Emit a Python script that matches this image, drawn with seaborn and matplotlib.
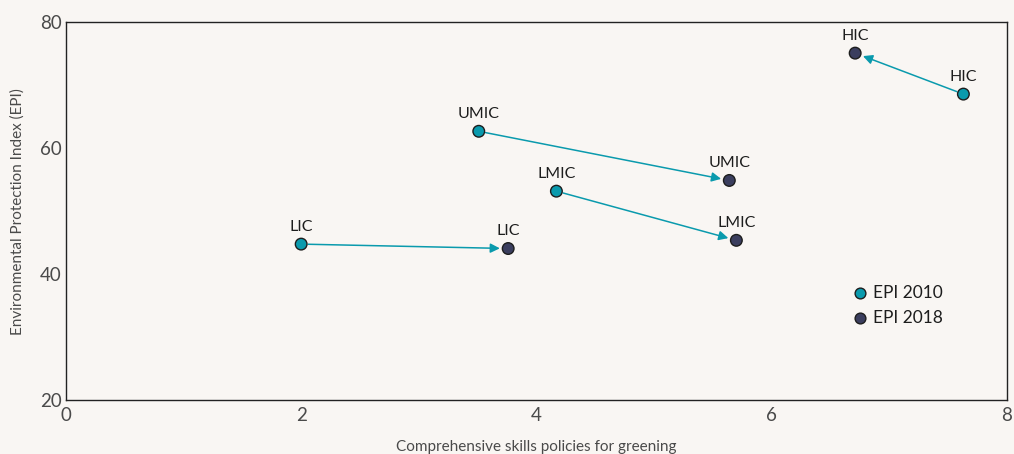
import numpy as np
import pandas as pd
import matplotlib.pyplot as plt
import seaborn as sns

groups = ['LIC', 'LMIC', 'UMIC', 'HIC']
skills_2010 = [2.0, 4.17, 3.51, 7.63]
epi_2010 = [44.8, 53.2, 62.7, 68.6]
skills_2018 = [3.76, 5.70, 5.64, 6.71]
epi_2018 = [44.1, 45.4, 54.9, 75.1]

BG = '#f9f6f3'
TEAL = '#0a9aad'
NAVY = '#3b3e5e'

sns.set_theme(style='white')
plt.rcParams['font.family'] = ['Lato', 'DejaVu Sans']

df = pd.concat([
    pd.DataFrame({'group': groups, 'x': skills_2010, 'y': epi_2010, 'year': 'EPI 2010'}),
    pd.DataFrame({'group': groups, 'x': skills_2018, 'y': epi_2018, 'year': 'EPI 2018'}),
])

fig = plt.figure(figsize=(10.14, 4.54), dpi=100, facecolor=BG)
ax = fig.add_axes([0.065, 0.118, 0.928, 0.833])
ax.set_facecolor(BG)

# arrows from 2010 to 2018
for i in range(len(groups)):
    ax.annotate('', xy=(skills_2018[i], epi_2018[i]), xytext=(skills_2010[i], epi_2010[i]),
                arrowprops=dict(arrowstyle='-|>', color=TEAL, lw=1.1, mutation_scale=14,
                                shrinkA=5, shrinkB=6), zorder=2)

sns.scatterplot(data=df, x='x', y='y', hue='year', palette=[TEAL, NAVY], s=70,
                edgecolor='#1d1d1d', linewidth=1, ax=ax, zorder=3, legend=False)

for _, r in df.iterrows():
    ax.text(r['x'], r['y'] + 1.6, r['group'], ha='center', va='bottom', fontsize=11.5,
            color='#1d1d1d')

# legend drawn as marks in data space
for yy, col, lab in [(37, TEAL, 'EPI 2010'), (33, NAVY, 'EPI 2018')]:
    ax.scatter([6.75], [yy], s=60, color=col, edgecolor='#1d1d1d', linewidth=1, zorder=3)
    ax.text(6.86, yy, lab, va='center', ha='left', fontsize=12.5, color='#1d1d1d')

ax.set_xlim(0, 8)
ax.set_ylim(20, 80)
ax.set_xticks([0, 2, 4, 6, 8])
ax.set_yticks([20, 40, 60, 80])
ax.tick_params(labelsize=13.5, colors='#4a4a4a', length=0)
ax.tick_params(axis='x', pad=5)
ax.tick_params(axis='y', pad=3)
ax.set_xlabel('Comprehensive skills policies for greening', fontsize=11, color='#4a4a4a',
              labelpad=11)
ax.set_ylabel('Environmental Protection Index (EPI)', fontsize=11, color='#4a4a4a',
              labelpad=11)
for s in ax.spines.values():
    s.set_color('#222222')
    s.set_linewidth(1)

fig.savefig('out.png', dpi=100, facecolor=BG)
